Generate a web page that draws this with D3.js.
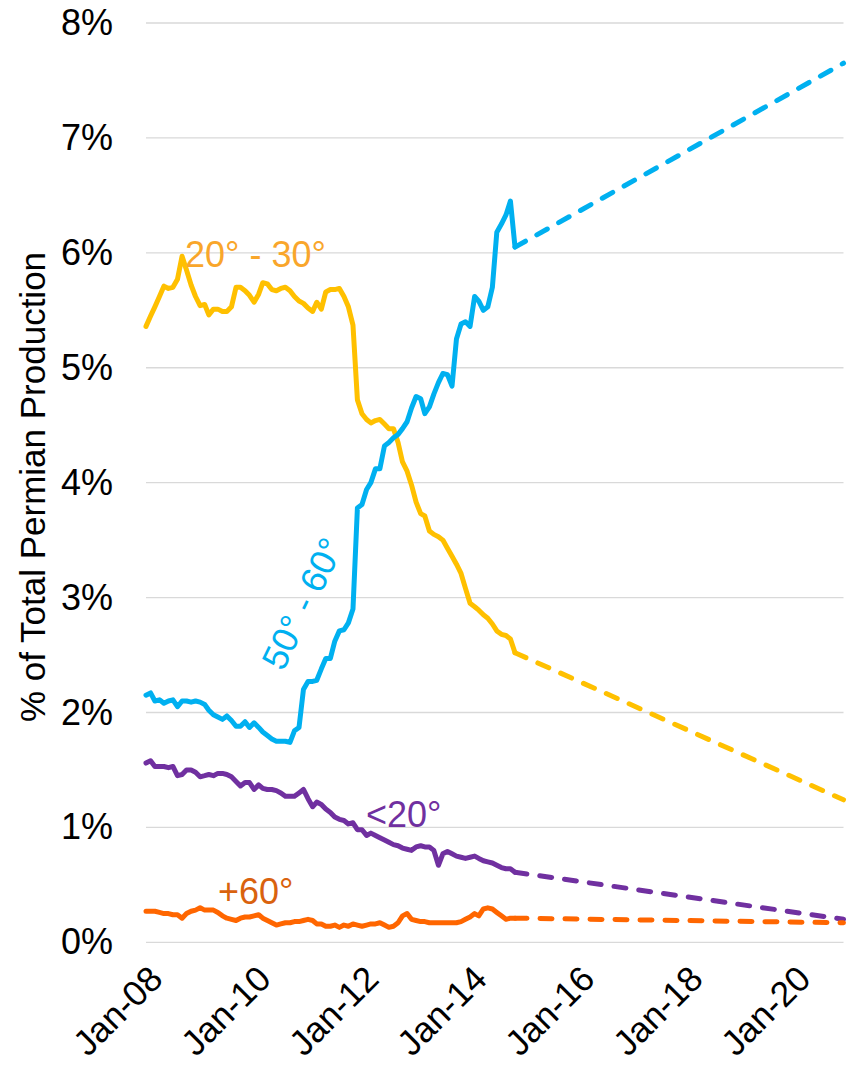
<!DOCTYPE html>
<html>
<head>
<meta charset="utf-8">
<script src="https://cdn.jsdelivr.net/npm/d3@7"></script>
<style>
  body { margin: 0; background: #fff; }
  text { font-family: "Liberation Sans", Arial, sans-serif; }
</style>
</head>
<body>
<div id="chart"></div>
<script>
// monthly actuals, Jan-08 .. Nov-14 (share of total Permian production, %)
var actualDates = d3.timeMonth.range(new Date(2008, 0, 1), new Date(2014, 11, 1));

var deg20to30 = [
  5.36, 5.45, 5.53, 5.62, 5.71, 5.69, 5.70, 5.77, 5.97, 5.85,
  5.72, 5.62, 5.54, 5.55, 5.46, 5.51, 5.51, 5.49, 5.49, 5.53,
  5.70, 5.70, 5.67, 5.63, 5.57, 5.64, 5.74, 5.73, 5.68, 5.67,
  5.69, 5.70, 5.67, 5.62, 5.58, 5.56, 5.52, 5.49, 5.57, 5.51,
  5.66, 5.68, 5.68, 5.69, 5.62, 5.53, 5.37, 4.72, 4.60, 4.55,
  4.52, 4.54, 4.55, 4.51, 4.47, 4.47, 4.35, 4.18, 4.10, 3.98,
  3.83, 3.73, 3.71, 3.58, 3.55, 3.53, 3.50, 3.43, 3.36, 3.29,
  3.21, 3.08, 2.95, 2.92, 2.89, 2.85, 2.82, 2.77, 2.71, 2.68,
  2.67, 2.64, 2.52
];

var deg50to60 = [
  2.15, 2.17, 2.10, 2.11, 2.08, 2.10, 2.11, 2.05, 2.10, 2.10,
  2.09, 2.10, 2.09, 2.07, 2.02, 1.98, 1.96, 1.94, 1.97, 1.93,
  1.88, 1.88, 1.92, 1.87, 1.91, 1.87, 1.83, 1.80, 1.77, 1.75,
  1.75, 1.75, 1.74, 1.84, 1.87, 2.20, 2.27, 2.27, 2.28, 2.38,
  2.47, 2.47, 2.62, 2.71, 2.72, 2.78, 2.90, 3.78, 3.81, 3.94,
  4.00, 4.12, 4.12, 4.32, 4.35, 4.39, 4.42, 4.47, 4.53, 4.65,
  4.75, 4.73, 4.60, 4.66, 4.77, 4.87, 4.95, 4.94, 4.84, 5.25,
  5.38, 5.40, 5.36, 5.62, 5.58, 5.50, 5.53, 5.70, 6.18, 6.25,
  6.33, 6.45, 6.05
];

var degUnder20 = [
  1.56, 1.58, 1.53, 1.53, 1.53, 1.52, 1.53, 1.45, 1.46, 1.50,
  1.50, 1.48, 1.44, 1.45, 1.46, 1.45, 1.47, 1.47, 1.46, 1.44,
  1.40, 1.36, 1.39, 1.39, 1.33, 1.37, 1.34, 1.33, 1.33, 1.32,
  1.30, 1.27, 1.27, 1.27, 1.30, 1.33, 1.25, 1.18, 1.22, 1.20,
  1.16, 1.13, 1.09, 1.07, 1.06, 1.03, 1.04, 0.98, 0.98, 0.93,
  0.95, 0.93, 0.91, 0.89, 0.87, 0.85, 0.84, 0.82, 0.81, 0.80,
  0.83, 0.84, 0.83, 0.83, 0.80, 0.67, 0.77, 0.79, 0.77, 0.75,
  0.74, 0.73, 0.74, 0.75, 0.73, 0.71, 0.70, 0.69, 0.67, 0.65,
  0.64, 0.64, 0.61
];

var degOver60 = [
  0.27, 0.27, 0.27, 0.26, 0.25, 0.25, 0.24, 0.24, 0.21, 0.25,
  0.27, 0.28, 0.30, 0.28, 0.28, 0.28, 0.26, 0.23, 0.21, 0.20,
  0.19, 0.21, 0.22, 0.22, 0.23, 0.24, 0.21, 0.19, 0.17, 0.15,
  0.16, 0.17, 0.17, 0.18, 0.18, 0.19, 0.20, 0.19, 0.16, 0.16,
  0.14, 0.14, 0.15, 0.13, 0.15, 0.14, 0.16, 0.15, 0.14, 0.15,
  0.16, 0.16, 0.17, 0.15, 0.13, 0.14, 0.17, 0.23, 0.25, 0.20,
  0.19, 0.18, 0.18, 0.17, 0.17, 0.17, 0.17, 0.17, 0.17, 0.17,
  0.18, 0.20, 0.22, 0.25, 0.23, 0.29, 0.30, 0.29, 0.26, 0.23,
  0.20, 0.21, 0.21
];

// straight-line projections (dashed), Nov-14 -> Dec-20
var forecastDates = [new Date(2014, 10, 1), new Date(2020, 11, 1)];
var fc20to30 = [2.52, 1.24];
var fc50to60 = [6.05, 7.65];
var fcUnder20 = [0.61, 0.20];
var fcOver60 = [0.21, 0.17];

var yTicks = [0, 1, 2, 3, 4, 5, 6, 7, 8];

var series = [
  { name: "20° - 30°", actual: deg20to30, forecast: fc20to30, color: "#FFC000" },
  { name: "50° - 60°", actual: deg50to60, forecast: fc50to60, color: "#00B0F0" },
  { name: "<20°", actual: degUnder20, forecast: fcUnder20, color: "#7030A0" },
  { name: "+60°", actual: degOver60, forecast: fcOver60, color: "#FF6600" }
];

var svgWidth = 853;
var svgHeight = 1069;

var margin = { top: 23, right: 10, bottom: 127, left: 146 };
var width = 843.5 - margin.left;
var height = 942.3 - margin.top;

var svg = d3.select("#chart")
  .append("svg")
  .attr("width", svgWidth)
  .attr("height", svgHeight);

var chartGroup = svg.append("g")
  .attr("transform", `translate(${margin.left}, ${margin.top})`);

var xScale = d3.scaleTime()
  .domain([new Date(2008, 0, 1), new Date(2020, 11, 1)])
  .range([0, width]);

var yScale = d3.scaleLinear()
  .domain([0, 8])
  .range([height, 0]);

// gridlines
chartGroup.append("g")
  .selectAll("line")
  .data(yTicks)
  .enter()
  .append("line")
  .attr("x1", 0)
  .attr("x2", width)
  .attr("y1", d => yScale(d))
  .attr("y2", d => yScale(d))
  .attr("stroke", "#D9D9D9")
  .attr("stroke-width", 1.3);

// y axis labels
var yAxis = d3.axisLeft(yScale)
  .tickValues(yTicks)
  .tickFormat(d => d + "%")
  .tickSize(0)
  .tickPadding(33);

chartGroup.append("g")
  .call(yAxis)
  .call(g => g.select(".domain").remove())
  .selectAll("text")
  .attr("font-size", "36px")
  .attr("fill", "#000")
  .style("font-family", '"Liberation Sans", Arial, sans-serif');

// x axis labels, rotated
var xTicks = d3.timeYear.every(2).range(new Date(2008, 0, 1), new Date(2021, 0, 1));

chartGroup.append("g")
  .selectAll("text")
  .data(xTicks)
  .enter()
  .append("text")
  .attr("transform", d => `translate(${xScale(d) + 10}, ${height + 30}) rotate(-45)`)
  .attr("text-anchor", "end")
  .attr("dy", "0.35em")
  .attr("font-size", "35.5px")
  .attr("fill", "#000")
  .text(d => d3.timeFormat("%b-%y")(d));

// lines
var line = d3.line()
  .x(d => xScale(d[0]))
  .y(d => yScale(d[1]));

series.forEach(function(s) {
  chartGroup.append("path")
    .datum(d3.zip(forecastDates, s.forecast))
    .attr("d", line)
    .attr("fill", "none")
    .attr("stroke", s.color)
    .attr("stroke-width", 5)
    .attr("stroke-linecap", "round")
    .attr("stroke-dasharray", "12,13");

  chartGroup.append("path")
    .datum(d3.zip(actualDates, s.actual))
    .attr("d", line)
    .attr("fill", "none")
    .attr("stroke", s.color)
    .attr("stroke-width", 5)
    .attr("stroke-linejoin", "round")
    .attr("stroke-linecap", "round");
});

// series labels
chartGroup.append("text")
  .attr("x", 185 - margin.left)
  .attr("y", 266.5 - margin.top)
  .attr("font-size", "36px")
  .attr("fill", "#F9A62B")
  .text("20° - 30°");

chartGroup.append("text")
  .attr("transform", `translate(${302.5 - margin.left}, ${603.5 - margin.top}) rotate(-64)`)
  .attr("text-anchor", "middle")
  .attr("dy", "0.35em")
  .attr("font-size", "36px")
  .attr("fill", "#00B0F0")
  .text("50° - 60°");

chartGroup.append("text")
  .attr("x", 366 - margin.left)
  .attr("y", 826.5 - margin.top)
  .attr("font-size", "36px")
  .attr("fill", "#7030A0")
  .text("<20°");

chartGroup.append("text")
  .attr("x", 218 - margin.left)
  .attr("y", 903.5 - margin.top)
  .attr("font-size", "36px")
  .attr("fill", "#D9620E")
  .text("+60°");

// y axis title
svg.append("text")
  .attr("transform", "translate(45, 487) rotate(-90)")
  .attr("text-anchor", "middle")
  .attr("font-size", "35px")
  .attr("fill", "#000")
  .text("% of Total Permian Production");
</script>
</body>
</html>
